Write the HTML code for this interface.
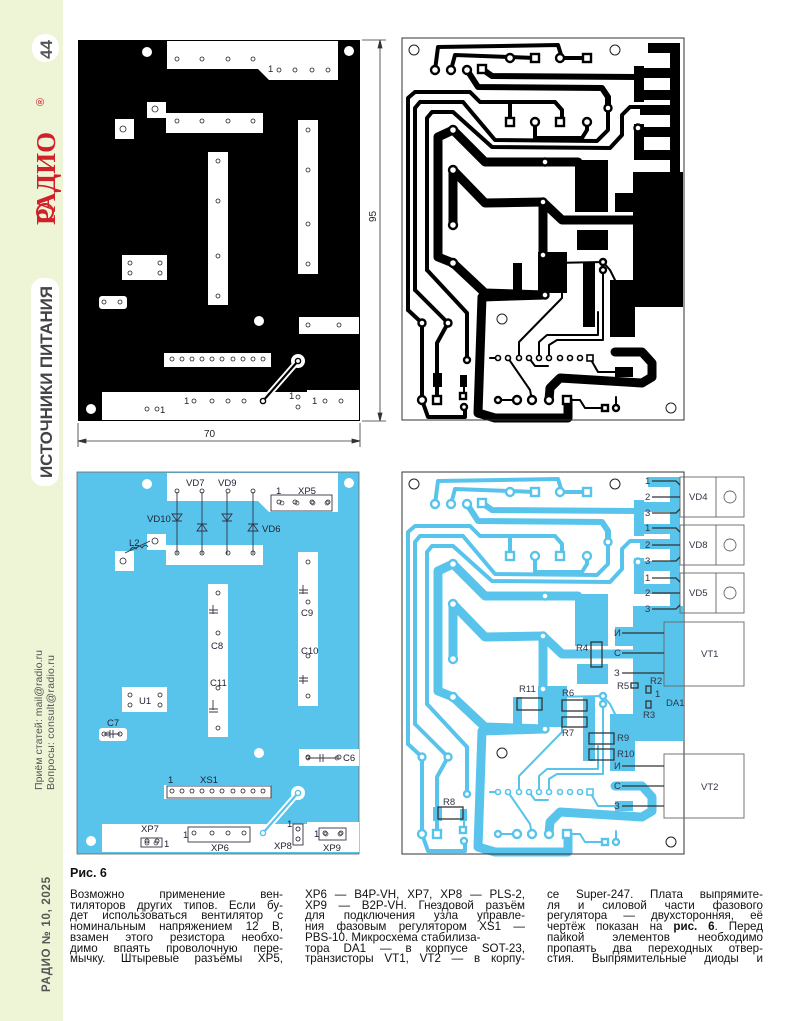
<!DOCTYPE html>
<html><head><meta charset="utf-8"><style>
html,body{margin:0;padding:0;background:#fff}
body{width:794px;height:1021px;position:relative;overflow:hidden;font-family:"Liberation Sans","DejaVu Sans",sans-serif}
svg{position:absolute;left:0;top:0}
.col{position:absolute;top:890px;font-size:11.6px;line-height:10.7px;color:#111}
.col div{text-align:justify;text-align-last:justify;white-space:nowrap}
.col div.l{text-align-last:left}
</style></head><body>
<svg width="794" height="1021" viewBox="0 0 794 1021" font-family="Liberation Sans, sans-serif">
<!-- sidebar -->
<rect x="0" y="0" width="63" height="1021" fill="#eef4d6"/>
<rect x="32" y="34" width="27" height="28" rx="13" fill="#fff"/>
<text transform="translate(52,59) rotate(-90)" font-size="17" font-weight="bold" fill="#555">44</text>
<text transform="translate(55,225) rotate(-90)" font-size="27" font-weight="bold" font-family="Liberation Serif, serif" fill="#d0202a">РАДИО</text>
<text transform="translate(44,106) rotate(-90)" font-size="11" fill="#d0202a">®</text>
<circle cx="45" cy="212" r="8" fill="none" stroke="#d0202a" stroke-width="2"/>
<rect x="31" y="278" width="28" height="208" rx="12" fill="#fff"/>
<text transform="translate(52,478) rotate(-90)" font-size="17" font-weight="bold" fill="#444" textLength="192">ИСТОЧНИКИ ПИТАНИЯ</text>
<text transform="translate(42,790) rotate(-90)" font-size="10.5" fill="#555" textLength="140">Приём статей: mail@radio.ru</text>
<text transform="translate(54,790) rotate(-90)" font-size="10.5" fill="#555" textLength="135">Вопросы: consult@radio.ru</text>
<text transform="translate(50,992) rotate(-90)" font-size="11.5" font-weight="bold" fill="#555" textLength="115">РАДИО № 10, 2025</text>

<defs>
<g id="tlw">
 <path d="M167,41 L338,41 L338,80 L269,80 L258,69 L167,69Z" fill="#fff"/>
 <path d="M147,102 L166,102 L166,113 L263,113 L263,133 L166,133 L166,118 L147,118Z" fill="#fff"/>
 <rect x="115" y="119" width="19" height="20" fill="#fff"/>
 <rect x="208" y="152" width="20" height="153" fill="#fff"/>
 <rect x="298" y="120" width="20" height="154" fill="#fff"/>
 <rect x="122" y="255" width="45" height="25" fill="#fff"/>
 <rect x="99" y="296" width="28" height="13" rx="3" fill="#fff"/>
 <rect x="299" y="317" width="60" height="17" fill="#fff"/>
 <rect x="164" y="353" width="107" height="14" fill="#fff"/>
 <path d="M102,392 L307,392 L307,390 L359,390 L359,420 L102,420Z" fill="#fff"/>
 <circle cx="147" cy="52" r="5" fill="#fff"/><circle cx="349" cy="51" r="5" fill="#fff"/>
 <circle cx="259" cy="321" r="5" fill="#fff"/><circle cx="91" cy="409" r="5" fill="#fff"/>
 <circle cx="298" cy="361" r="7" fill="#fff"/>
 <path d="M263,401 L298,361" stroke="#fff" stroke-width="6" fill="none"/>
 <path d="M263,401 L298,361" stroke="currentColor" stroke-width="2.2" fill="none"/>
 <circle cx="263" cy="401" r="2.6" fill="#fff" stroke="currentColor" stroke-width="1.4"/>
 <circle cx="298" cy="361" r="2.6" fill="#fff" stroke="currentColor" stroke-width="1.4"/>
 <g fill="none" stroke="#222" stroke-width="0.8">
  <circle cx="177" cy="59" r="2"/><circle cx="202" cy="59" r="2"/><circle cx="228" cy="59" r="2"/><circle cx="253" cy="59" r="2"/>
  <circle cx="279" cy="70" r="2"/><circle cx="295" cy="70" r="2"/><circle cx="312" cy="70" r="2"/><circle cx="328" cy="70" r="2"/>
  <circle cx="155" cy="109" r="3"/><circle cx="123" cy="129" r="3"/>
  <circle cx="177" cy="121" r="2"/><circle cx="202" cy="121" r="2"/><circle cx="228" cy="121" r="2"/><circle cx="253" cy="121" r="2"/>
  <circle cx="218" cy="161" r="2"/><circle cx="218" cy="201" r="2"/><circle cx="218" cy="256" r="2"/><circle cx="218" cy="296" r="2"/>
  <circle cx="308" cy="130" r="2"/><circle cx="308" cy="170" r="2"/><circle cx="308" cy="224" r="2"/><circle cx="308" cy="264" r="2"/>
  <circle cx="130" cy="263" r="2"/><circle cx="160" cy="263" r="2"/><circle cx="130" cy="273" r="2"/><circle cx="160" cy="273" r="2"/>
  <circle cx="104" cy="302" r="2"/><circle cx="120" cy="302" r="2"/>
  <circle cx="308" cy="325" r="2"/><circle cx="339" cy="325" r="2"/>
  <circle cx="172" cy="359" r="2"/><circle cx="182" cy="359" r="2"/><circle cx="192" cy="359" r="2"/><circle cx="202" cy="359" r="2"/><circle cx="212" cy="359" r="2"/><circle cx="222" cy="359" r="2"/><circle cx="233" cy="359" r="2"/><circle cx="243" cy="359" r="2"/><circle cx="253" cy="359" r="2"/><circle cx="263" cy="359" r="2"/>
  <circle cx="147" cy="409" r="2"/><circle cx="157" cy="409" r="2"/>
  <circle cx="194" cy="401" r="2"/><circle cx="212" cy="401" r="2"/><circle cx="228" cy="401" r="2"/><circle cx="244" cy="401" r="2"/>
  <circle cx="298" cy="397" r="2"/><circle cx="298" cy="407" r="2"/>
  <circle cx="325" cy="401" r="2"/><circle cx="341" cy="401" r="2"/>
 </g>
</g>

<g id="trc">
 <g fill="currentColor">
  <rect x="575" y="160" width="33" height="52"/><rect x="577" y="230" width="31" height="20"/>
  <rect x="538" y="252" width="29" height="41"/><rect x="513" y="263" width="9" height="30"/>
  <rect x="633" y="172" width="50" height="135"/><rect x="615" y="193" width="20" height="19"/>
  <rect x="583" y="263" width="12" height="64"/><rect x="610" y="280" width="25" height="57"/>
  <rect x="615" y="367" width="18" height="10"/>
  <rect x="648" y="43" width="32" height="10"/><rect x="670" y="43" width="10" height="130"/>
  <rect x="636" y="68" width="44" height="10"/><rect x="636" y="90" width="44" height="10"/><rect x="634" y="66" width="10" height="36"/>
  <rect x="640" y="105" width="40" height="10"/><rect x="640" y="127" width="40" height="10"/><rect x="634" y="124" width="10" height="36"/><rect x="634" y="150" width="46" height="10"/>
  <rect x="433" y="373" width="9" height="14"/><rect x="460" y="375" width="7" height="12"/>
 </g>
 <g fill="none" stroke="currentColor" stroke-linejoin="round" stroke-linecap="round">
  <g stroke-width="4">
   <path d="M435,70 L438,47 L558,45 L562,58 L587,58"/>
   <path d="M451,70 L455,55 L510,57 L535,58"/>
   <path d="M408,310 L408,98 L415,92 L470,92 L480,102 L555,102 L562,110 L562,122 M510,102 L510,122"/>
   <path d="M408,310 L422,323 L422,400 L428,417 L465,417 L465,407"/>
   <path d="M415,290 L415,108 L420,102 L463,102 L495,140 L597,141 L608,130 L608,108"/>
   <path d="M415,290 L448,323 L437,343 L437,400"/>
   <path d="M427,270 L427,118 L432,112 L453,112 L492,147 L610,148 L622,135 L622,115 L630,107 L650,107"/>
   <path d="M427,270 L467,313 L467,360"/>
   <path d="M535,122 L535,138 L582,138 L587,130 L587,122"/>
  </g>
  <g stroke-width="6">
   <path d="M482,69 L492,76 L640,77"/>
   <path d="M467,70 L478,87 L602,88 L608,97 L608,108"/>
  </g>
  <g stroke-width="9">
   <path d="M453,130 L438,137 L438,257 L453,263 L485,293 L545,295"/>
   <path d="M453,130 L485,162 L578,162"/>
   <path d="M453,170 L453,225 M453,170 L485,203 L543,202 L562,220 L633,220 M543,202 L543,255"/>
   <path d="M545,295 L482,297 L478,413 L495,418 L568,418 L568,400"/>
   <path d="M615,352 L642,352 L652,363 L652,377 L642,383 L560,378 L550,388 L549,400"/>
  </g>
  <g stroke-width="2">
   <path d="M498,358 L490,358 M519,358 L519,342 L562,298 L562,280"/>
   <path d="M539,358 L539,342 L547,335 L598,335 L598,312"/>
   <path d="M549,358 L549,345 L557,340 L603,340 L603,270"/>
   <path d="M508,358 L530,390 L532,400 M590,358 L598,372 L615,372"/>
   <path d="M529,358 L535,366 L548,366 M553,281 L552,263 L603,262 L610,270 L615,280"/>
   <path d="M498,400 L517,400 M567,400 L580,400 L585,408 L605,408 M616,408 L616,397"/>
   <path d="M437,387 L437,400 M464,387 L464,397"/>
  </g>
 </g>
 <g fill="#fff" stroke="currentColor" stroke-width="2.4">
  <circle cx="435" cy="70" r="4"/><circle cx="451" cy="70" r="4"/><circle cx="467" cy="70" r="4"/>
  <circle cx="510" cy="58" r="4"/><circle cx="560" cy="58" r="4"/><circle cx="535" cy="122" r="4"/><circle cx="587" cy="122" r="4"/>
  <circle cx="608" cy="108" r="3.5"/><circle cx="638" cy="128" r="3.5"/><circle cx="545" cy="162" r="3.5"/>
  <circle cx="453" cy="130" r="4"/><circle cx="453" cy="170" r="4"/><circle cx="453" cy="225" r="4"/>
  <circle cx="543" cy="202" r="3.5"/><circle cx="543" cy="255" r="3.5"/><circle cx="453" cy="263" r="4"/><circle cx="545" cy="295" r="3.5"/>
  <circle cx="422" cy="323" r="3.5"/><circle cx="448" cy="323" r="3.5"/><circle cx="467" cy="360" r="3"/>
  <circle cx="422" cy="400" r="4"/><circle cx="498" cy="400" r="3"/><circle cx="517" cy="400" r="4"/><circle cx="532" cy="400" r="4"/><circle cx="549" cy="400" r="4"/><circle cx="616" cy="408" r="3"/>
  <circle cx="464" cy="407" r="3"/><circle cx="603" cy="262" r="3"/><circle cx="603" cy="270" r="3"/>
  <rect x="478" y="65" width="8" height="8"/><rect x="531" y="54" width="8" height="8"/><rect x="583" y="54" width="8" height="8"/>
  <rect x="506" y="118" width="8" height="8"/><rect x="556" y="118" width="8" height="8"/>
  <rect x="433" y="396" width="8" height="8"/><rect x="460" y="393" width="6" height="6"/><rect x="563" y="396" width="8" height="8"/><rect x="602" y="405" width="6" height="6"/>
 </g>
 <g fill="#fff" stroke="currentColor" stroke-width="1.6">
  <circle cx="498" cy="358" r="2.5"/><circle cx="508" cy="358" r="2.5"/><circle cx="519" cy="358" r="2.5"/><circle cx="529" cy="358" r="2.5"/><circle cx="539" cy="358" r="2.5"/><circle cx="549" cy="358" r="2.5"/><circle cx="560" cy="358" r="2.5"/><circle cx="570" cy="358" r="2.5"/><circle cx="580" cy="358" r="2.5"/><rect x="587" y="355" width="6" height="6"/>
 </g>
 <g fill="#fff" stroke="#222" stroke-width="1">
  <circle cx="414" cy="50" r="5"/><circle cx="615" cy="50" r="5"/><circle cx="671" cy="408" r="5"/><circle cx="502" cy="319" r="5"/>
 </g>
 <rect x="402" y="38" width="282" height="382" fill="none" stroke="#333" stroke-width="1"/>
</g>
</defs>

<!-- top-left board -->
<rect x="78" y="40" width="282" height="381" fill="#000"/>
<use href="#tlw" style="color:#000"/>
<g font-size="9.5" fill="#222"><text x="268" y="72">1</text><text x="160" y="413">1</text><text x="184" y="404">1</text><text x="289" y="399">1</text><text x="312" y="404">1</text></g>
<!-- dimensions -->
<g stroke="#333" stroke-width="0.8" fill="#333">
 <line x1="362" y1="40" x2="386" y2="40"/><line x1="362" y1="421" x2="386" y2="421"/>
 <line x1="380" y1="40" x2="380" y2="421"/>
 <path d="M380,40 l-2,8 h4Z M380,421 l-2,-8 h4Z"/>
 <line x1="78" y1="423" x2="78" y2="447"/><line x1="360" y1="423" x2="360" y2="447"/>
 <line x1="78" y1="441" x2="360" y2="441"/>
 <path d="M78,441 l8,-2 v4Z M360,441 l-8,-2 v4Z"/>
</g>
<text transform="translate(376,222) rotate(-90)" font-size="10" fill="#222">95</text>
<text x="204" y="437" font-size="10" fill="#222">70</text>

<!-- top-right board -->
<use href="#trc" style="color:#000"/>

<!-- bottom-left board -->
<rect x="77" y="472" width="282" height="382" fill="#58c4ec" stroke="#666" stroke-width="0.8"/>
<use href="#tlw" transform="translate(0,432)" style="color:#58c4ec"/>
<g stroke="#334" stroke-width="0.9" fill="none">
 <path d="M177,492 V554 M202,492 V554 M227,492 V554 M253,492 V554"/>
 <path d="M172,514 h10 l-5,7Z M172,521 h10 M197,531 h10 l-5,-7Z M197,524 h10 M222,514 h10 l-5,7Z M222,521 h10 M248,531 h10 l-5,-7Z M248,524 h10"/>
 <path d="M125,553 L150,541 M130,550 q3,-5 6,-1 q3,-5 6,-1 q3,-5 6,-1"/>
 <rect x="271" y="495" width="61" height="16"/>
 <path d="M213,605 V614 M209,610 h9 M209,613 h9 M303,585 V594 M299,590 h9 M299,593 h9 M303,675 V684 M299,678 h9 M299,681 h9 M213,700 V710 M209,709 h9 M209,712 h9"/>
 <path d="M104,734 h16 M110,730 v8 M113,730 v8 M308,758 h29 M320,754 v8 M323,754 v8"/>
 <rect x="167" y="786" width="104" height="12"/><rect x="141" y="838" width="21" height="9"/><rect x="188" y="827" width="62" height="15"/><rect x="293" y="824" width="10" height="21"/><rect x="319" y="828" width="27" height="12"/>
</g>
<g fill="none" stroke="#334" stroke-width="0.7">
 <circle cx="282" cy="503" r="2"/><circle cx="297" cy="503" r="2"/><circle cx="313" cy="503" r="2"/><circle cx="327" cy="503" r="2"/>
 <circle cx="108" cy="734" r="2"/><circle cx="120" cy="734" r="2"/><circle cx="308" cy="758" r="2"/><circle cx="337" cy="758" r="2"/>
 <circle cx="147" cy="843" r="2"/><circle cx="156" cy="843" r="2"/><circle cx="298" cy="829" r="2"/><circle cx="298" cy="839" r="2"/><circle cx="326" cy="834" r="2"/><circle cx="340" cy="834" r="2"/>
</g>
<g font-size="9.5" fill="#223">
 <text x="186" y="486">VD7</text><text x="218" y="486">VD9</text><text x="147" y="522">VD10</text><text x="262" y="532">VD6</text>
 <text x="298" y="494">XP5</text><text x="276" y="494">1</text><text x="129" y="546">L2</text>
 <text x="301" y="616">C9</text><text x="211" y="649">C8</text><text x="301" y="654">C10</text><text x="210" y="686">C11</text>
 <text x="139" y="704">U1</text><text x="107" y="726">C7</text><text x="343" y="761">C6</text>
 <text x="200" y="783">XS1</text><text x="168" y="783">1</text><text x="141" y="832">XP7</text><text x="164" y="847">1</text>
 <text x="211" y="851">XP6</text><text x="183" y="838">1</text><text x="274" y="849">XP8</text><text x="287" y="827">1</text><text x="323" y="851">XP9</text><text x="314" y="837">1</text>
</g>

<!-- bottom-right board -->
<use href="#trc" transform="translate(0,434)" style="color:#58c4ec"/>
<g fill="none" stroke="#666" stroke-width="0.9">
 <rect x="680" y="477" width="64" height="40"/><line x1="716" y1="477" x2="716" y2="517"/><circle cx="730" cy="497" r="6"/>
 <rect x="680" y="525" width="64" height="40"/><line x1="716" y1="525" x2="716" y2="565"/><circle cx="730" cy="545" r="6"/>
 <rect x="680" y="573" width="64" height="40"/><line x1="716" y1="573" x2="716" y2="613"/><circle cx="730" cy="593" r="6"/>
 <rect x="664" y="622" width="80" height="64"/>
 <rect x="664" y="754" width="80" height="64"/>
</g>
<g stroke="#333" stroke-width="1.3" fill="none">
 <path d="M652,481 H676 L680,485 M652,497 H680 M652,513 H676 L680,509 M652,528 H676 L680,532 M652,545 H680 M652,561 H676 L680,557 M652,578 H676 L680,582 M652,593 H680 M652,609 H676 L680,605"/>
 <path d="M622,633 H664 M622,653 H664 M622,673 H664 M622,766 H664 M622,786 H664 M622,806 H664"/>
 <rect x="591" y="642" width="11" height="25"/><rect x="517" y="698" width="25" height="12"/><rect x="562" y="700" width="25" height="11"/><rect x="562" y="717" width="25" height="10"/>
 <rect x="589" y="733" width="25" height="11"/><rect x="589" y="749" width="25" height="11"/><rect x="438" y="807" width="25" height="12"/>
 <rect x="631" y="683" width="7" height="5"/><rect x="646" y="686" width="5" height="7"/><rect x="646" y="701" width="5" height="7"/>
</g>
<g font-size="9.5" fill="#334">
 <text x="645" y="484">1</text><text x="645" y="500">2</text><text x="645" y="516">3</text>
 <text x="645" y="531">1</text><text x="645" y="548">2</text><text x="645" y="564">3</text>
 <text x="645" y="581">1</text><text x="645" y="596">2</text><text x="645" y="612">3</text>
 <text x="614" y="636">И</text><text x="614" y="656">С</text><text x="614" y="676">З</text>
 <text x="614" y="769">И</text><text x="614" y="789">С</text><text x="614" y="809">З</text>
 <text x="689" y="500">VD4</text><text x="689" y="548">VD8</text><text x="689" y="596">VD5</text>
 <text x="701" y="657">VT1</text><text x="701" y="790">VT2</text>
 <text x="576" y="651">R4</text><text x="519" y="692">R11</text><text x="562" y="696">R6</text><text x="562" y="736">R7</text>
 <text x="617" y="741">R9</text><text x="617" y="757">R10</text><text x="443" y="805">R8</text>
 <text x="617" y="689">R5</text><text x="650" y="684">R2</text><text x="643" y="718">R3</text><text x="666" y="706">DA1</text><text x="655" y="697">1</text>
</g>
</svg>

<div style="position:absolute;left:70px;top:866px;font-size:12.5px;font-weight:bold;color:#111">Рис. 6</div>
<div class="col" style="left:70px;width:213px">
<div>Возможно применение вен-</div>
<div>тиляторов других типов. Если бу-</div>
<div>дет использоваться вентилятор с</div>
<div>номинальным напряжением 12 В,</div>
<div>взамен этого резистора необхо-</div>
<div>димо впаять проволочную пере-</div>
<div>мычку. Штыревые разъёмы XP5,</div>
</div>
<div class="col" style="left:305px;width:220px">
<div>XP6 — B4P-VH, XP7, XP8 — PLS-2,</div>
<div>XP9 — B2P-VH. Гнездовой разъём</div>
<div>для подключения узла управле-</div>
<div>ния фазовым регулятором XS1 —</div>
<div class="l">PBS-10. Микросхема стабилиза-</div>
<div>тора DA1 — в корпусе SOT-23,</div>
<div>транзисторы VT1, VT2 — в корпу-</div>
</div>
<div class="col" style="left:547px;width:216px">
<div>се Super-247. Плата выпрямите-</div>
<div>ля и силовой части фазового</div>
<div>регулятора — двухсторонняя, её</div>
<div>чертёж показан на <b>рис. 6</b>. Перед</div>
<div>пайкой элементов необходимо</div>
<div>пропаять два переходных отвер-</div>
<div>стия. Выпрямительные диоды и</div>
</div>
</body></html>
